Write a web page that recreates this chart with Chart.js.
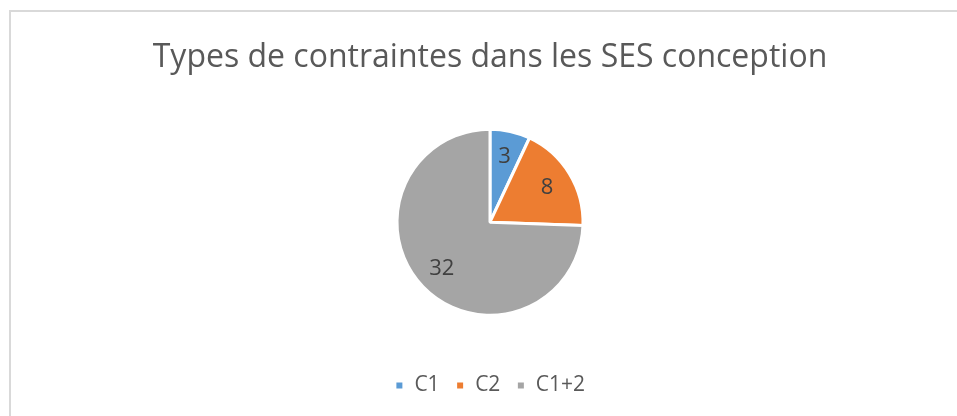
<!DOCTYPE html>
<html>
<head>
<meta charset="utf-8">
<script src="https://cdn.jsdelivr.net/npm/chart.js@4/dist/chart.umd.min.js"></script>
<style>
  html, body { margin: 0; padding: 0; background: #ffffff; overflow: hidden; width: 957px; height: 416px; }
  #frame { position: absolute; left: 9px; top: 10px; width: 980px; height: 440px; border: 2px solid #d9d9d9; box-sizing: border-box; background: #fff; }
  #wrap { position: absolute; left: 11px; top: 0px; width: 958px; height: 416px; }
</style>
</head>
<body>
<div id="frame"></div>
<div id="wrap"><canvas id="c" width="958" height="416"></canvas></div>
<script>
const chartTitle = "Types de contraintes dans les SES conception";
const categories = ["C1", "C2", "C1+2"];
const counts = [3, 8, 32];
const sliceColors = ["#5B9BD5", "#ED7D31", "#A5A5A5"];

const labelPlugin = {
  id: 'sliceLabels',
  afterDatasetsDraw(chart) {
    const ctx = chart.ctx;
    const meta = chart.getDatasetMeta(0);
    ctx.save();
    ctx.font = '22px "Open Sans", sans-serif';
    ctx.fillStyle = '#404040';
    ctx.textAlign = 'center';
    ctx.textBaseline = 'middle';
    meta.data.forEach((arc, i) => {
      const p = arc.getProps(['x', 'y', 'startAngle', 'endAngle', 'outerRadius'], true);
      const mid = (p.startAngle + p.endAngle) / 2;
      const r = p.outerRadius * 0.72;
      ctx.fillText(String(counts[i]), p.x + Math.cos(mid) * r, p.y + Math.sin(mid) * r);
    });
    ctx.restore();
  }
};

new Chart(document.getElementById('c'), {
  type: 'pie',
  data: {
    labels: categories,
    datasets: [{
      data: counts,
      backgroundColor: sliceColors,
      borderColor: '#ffffff',
      borderWidth: 3,
      radius: 93
    }]
  },
  options: {
    responsive: false,
    animation: false,
    layout: { padding: { top: 0, bottom: 10, left: 0, right: 0 } },
    plugins: {
      title: {
        display: true,
        text: chartTitle,
        color: '#595959',
        font: { family: '"Open Sans", sans-serif', size: 32, weight: 'normal' },
        padding: { top: 39, bottom: 8 }
      },
      legend: {
        position: 'bottom',
        labels: {
          color: '#595959',
          font: { family: '"Open Sans", sans-serif', size: 21 },
          boxWidth: 9,
          boxHeight: 9,
          padding: 16
        }
      },
      tooltip: { enabled: false }
    }
  },
  plugins: [labelPlugin]
});
</script>
</body>
</html>
